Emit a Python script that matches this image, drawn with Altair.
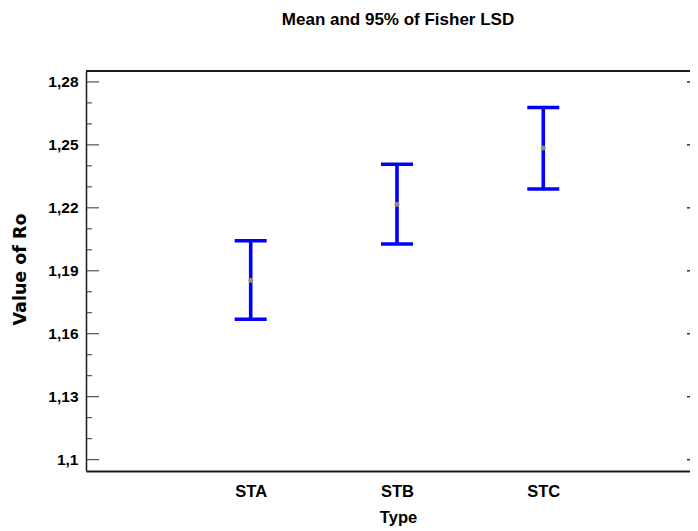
import altair as alt
import pandas as pd

# ---- data ----
types = ["STA", "STB", "STC"]
means = [1.1855, 1.2217, 1.2485]
lows = [1.1669, 1.2028, 1.2290]
highs = [1.2043, 1.2408, 1.2678]

major_ticks = [1.1, 1.13, 1.16, 1.19, 1.22, 1.25, 1.28]
minor_ticks = [1.11, 1.12, 1.14, 1.15, 1.17, 1.18, 1.20, 1.21,
               1.23, 1.24, 1.26, 1.27]

positions = list(range(1, len(types) + 1))
df = pd.DataFrame({"type": types, "pos": positions,
                   "mean": means, "lo": lows, "hi": highs})
major_df = pd.DataFrame({"v": major_ticks})
minor_df = pd.DataFrame({"v": minor_ticks})

FONT = "Liberation Sans, Arial, sans-serif"
BLUE = "#0000ff"
FRAME = "#1a1a1a"
W, H = 604, 400

xscale = alt.Scale(domain=[-0.126, 4.003], nice=False, zero=False)
yscale = alt.Scale(domain=[1.0946, 1.2852], nice=False, zero=False)

names_js = "[" + ",".join("'%s'" % t for t in types) + "]"

y_axis = alt.Axis(
    orient="left", values=major_ticks,
    labelExpr="replace(toString(datum.value), '.', ',')",
    ticks=False, labelPadding=8,
    labelFont=FONT, labelFontSize=15.5, labelFontWeight="bold",
    labelColor="black", labelBaseline="middle",
    domainColor=FRAME, domainWidth=1.5,
    title="Value of Ro", titleFont="DejaVu Sans", titleFontSize=17.5,
    titleFontWeight="bold", titleColor="black",
    titleX=-61, titleY=198, titleAlign="center", titleBaseline="alphabetic",
    grid=False,
)

bottom_axis = alt.Axis(
    orient="bottom", values=positions, ticks=False, labelPadding=12,
    labelAngle=0, labelFlush=False,
    labelExpr=names_js + "[datum.value - 1]",
    labelFont=FONT, labelFontSize=16.5, labelFontWeight="bold",
    labelColor="black",
    domainColor=FRAME, domainWidth=2,
    title="Type", titleFont=FONT, titleFontSize=16.5, titleFontWeight="bold",
    titleColor="black", titleX=312, titleY=51, titleAlign="center",
    titleBaseline="alphabetic", grid=False,
)

err = alt.Chart(df).mark_rule(color=BLUE, strokeWidth=3.6).encode(
    x=alt.X("pos:Q", scale=xscale, axis=bottom_axis),
    y=alt.Y("lo:Q", scale=yscale, axis=y_axis),
    y2="hi:Q",
)

cap_lo = alt.Chart(df).mark_tick(color=BLUE, thickness=3.5, size=32,
                                 opacity=1, orient="horizontal").encode(
    x=alt.X("pos:Q", scale=xscale),
    y=alt.Y("lo:Q", scale=yscale),
)
cap_hi = alt.Chart(df).mark_tick(color=BLUE, thickness=3.5, size=32,
                                 opacity=1, orient="horizontal").encode(
    x=alt.X("pos:Q", scale=xscale),
    y=alt.Y("hi:Q", scale=yscale),
)

pts = alt.Chart(df).mark_point(filled=True, size=26, color="#a39a6a",
                               opacity=0.9).encode(
    x=alt.X("pos:Q", scale=xscale),
    y=alt.Y("mean:Q", scale=yscale),
)

major_left = alt.Chart(major_df).mark_rule(color="#333333", strokeWidth=1).encode(
    y=alt.Y("v:Q", scale=yscale),
    x=alt.value(0), x2=alt.value(13),
)
minor_left = alt.Chart(minor_df).mark_rule(color="#333333", strokeWidth=1).encode(
    y=alt.Y("v:Q", scale=yscale),
    x=alt.value(0), x2=alt.value(6),
)
major_right = alt.Chart(major_df).mark_rule(color="#333333", strokeWidth=1.5).encode(
    y=alt.Y("v:Q", scale=yscale),
    x=alt.value(W - 3), x2=alt.value(W + 2),
)

# top border of the frame
top_frame = alt.Chart(df).mark_rule(color=FRAME, strokeWidth=2).encode(
    x=alt.value(0), x2=alt.value(W + 2), y=alt.value(0),
)

chart = alt.layer(
    err, cap_lo, cap_hi, pts, major_left, minor_left, major_right, top_frame
).properties(
    width=W, height=H,
    autosize=alt.AutoSizeParams(type="none"),
    padding={"left": 78, "top": 63, "right": 0, "bottom": 58},
    title=alt.TitleParams(
        text="Mean and 95% of Fisher LSD", font=FONT, fontSize=17,
        fontWeight="bold", color="black", anchor="middle", dx=10,
        baseline="alphabetic", offset=28,
    ),
).configure_view(stroke="transparent").configure_axis(grid=False)

chart.save("out.html", embed_options={"renderer": "svg", "actions": False})
